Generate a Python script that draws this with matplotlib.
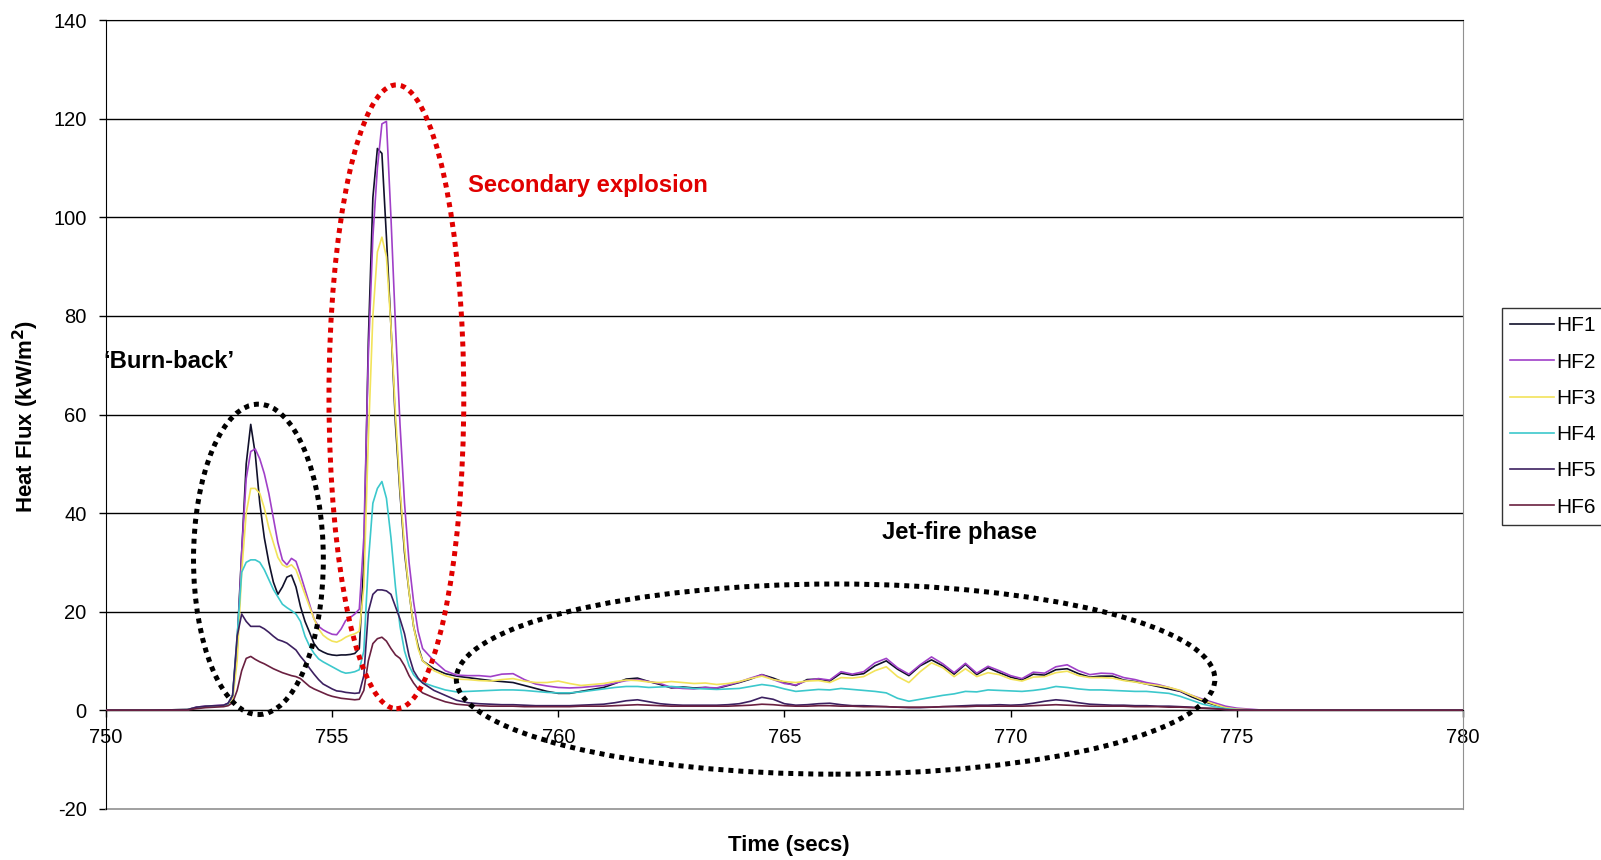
import numpy as np
import matplotlib
matplotlib.use("Agg")
import matplotlib.pyplot as plt
from matplotlib.patches import Ellipse

plt.rcParams['font.family'] = ['Liberation Sans', 'DejaVu Sans']
plt.rcParams['axes.unicode_minus'] = False

# sample times (s): quiet lead-in, 0.1 s through the burn-back / explosion, 0.25 s through the jet fire
t_pre = [750.0, 751.0, 751.8, 752.0, 752.2, 752.4, 752.6, 752.7]
t_event = list(np.round(np.arange(752.8, 757.01, 0.1), 2))
t_jet = list(np.round(np.arange(757.25, 775.01, 0.25), 2))
t_tail = [775.5, 776.0, 780.0]
time = np.array(t_pre + t_event + t_jet + t_tail)

hf1 = [0, 0, 0.1, 0.5, 0.7, 0.8, 0.9, 1.3,
       3.0, 14, 32, 50, 58, 52, 42, 35, 30, 26,
       23.5, 25, 27, 27.4, 25, 21, 18, 15.8, 13.5, 12.3,
       11.8, 11.4, 11.2, 11.1, 11.2, 11.2, 11.3, 11.5, 12.5, 30,
       75, 104, 114, 113, 96, 78, 58, 44, 32, 24,
       17, 13, 10,
       8.4, 7.4, 6.9, 6.6, 6.3, 6.0, 5.8, 5.6, 5.0, 4.4, 3.8,
       3.4, 3.4, 3.8, 4.2, 4.6, 5.4, 6.3, 6.5, 5.8, 5.2, 4.5, 4.7, 4.5, 4.6, 4.4, 5.0, 5.6, 6.3, 7.2, 6.5,
       5.6, 5.0, 6.2, 6.3, 5.9, 7.5, 7.1, 7.4, 9.0, 10.0, 8.3, 7.0, 9.0, 10.2, 9.0, 7.3, 9.3, 7.2, 8.6, 7.6,
       6.7, 6.1, 7.3, 7.1, 8.2, 8.4, 7.4, 6.7, 6.9, 6.9, 6.1, 5.8, 5.3, 4.8, 4.3, 3.8, 2.7, 1.8, 1.1, 0.5,
       0.1,
       0, 0, 0]

hf2 = [0, 0, 0.1, 0.6, 0.8, 0.9, 1.0, 1.4,
       2.5, 12, 32, 47, 52.5, 53, 51, 48, 44, 39,
       34, 30.5, 29.5, 30.8, 30.2, 27.5, 24.5, 21.5, 18.5, 17,
       16.3, 15.8, 15.4, 15.3, 16.5, 18.2, 18.8, 19.5, 20.5, 35,
       72, 96, 110, 119, 119.5, 100, 78, 58, 42, 30,
       22, 16, 12.5,
       10.0, 8.0, 7.1, 7.0, 7.0, 6.8, 7.3, 7.4, 6.2, 5.3, 4.9,
       4.6, 4.5, 4.6, 4.8, 5.0, 5.5, 6.0, 6.2, 5.8, 5.4, 4.6, 4.4, 4.3, 4.6, 4.5, 5.1, 5.7, 6.5, 7.2, 6.2,
       5.4, 5.1, 6.0, 6.4, 6.1, 7.8, 7.3, 7.8, 9.6, 10.5, 8.6, 7.3, 9.2, 10.8, 9.4, 7.6, 9.5, 7.5, 8.9, 8.0,
       7.0, 6.4, 7.7, 7.5, 8.8, 9.2, 8.0, 7.2, 7.5, 7.4, 6.6, 6.2, 5.6, 5.2, 4.6, 3.9, 3.0, 2.2, 1.5, 0.8,
       0.4,
       0.05, 0, 0]

hf3 = [0, 0, 0.1, 0.5, 0.7, 0.8, 0.9, 1.2,
       2.0, 10, 28, 40, 45, 45, 44, 41, 37, 34,
       31, 29.5, 29, 29.5, 28.5, 26, 23.5, 21, 18.5, 16.5,
       15.2, 14.5, 14, 13.8, 14.2, 14.8, 15.2, 15.5, 16, 25,
       55, 80, 93, 96, 92, 78, 60, 45, 33, 24,
       17, 12.5, 10,
       8.0, 7.0, 6.3, 6.2, 6.0, 5.9, 6.2, 6.4, 5.9, 5.6, 5.6,
       5.9, 5.4, 5.0, 5.2, 5.4, 5.8, 6.1, 6.0, 5.7, 5.6, 5.8, 5.6, 5.4, 5.5, 5.2, 5.4, 5.8, 6.4, 6.9, 6.2,
       5.8, 5.6, 5.9, 6.0, 5.6, 6.6, 6.5, 6.8, 8.0, 8.8, 6.8, 5.6, 7.8, 9.6, 8.6, 6.8, 8.4, 6.8, 7.6, 7.2,
       6.3, 5.9, 6.7, 6.8, 7.6, 7.9, 7.0, 6.6, 6.6, 6.5, 6.0, 5.7, 5.3, 5.0, 4.6, 4.0, 3.0, 2.0, 1.2, 0.5,
       0.2,
       0, 0, 0]

hf4 = [0, 0, 0.1, 0.5, 0.7, 0.8, 0.9, 1.3,
       3, 15, 28, 30, 30.5, 30.5, 30, 28.5, 26.5, 24.5,
       23, 21.5, 20.8, 20.2, 19.5, 18, 15, 13, 11.5, 10.4,
       9.8, 9.3, 8.8, 8.3, 7.8, 7.5, 7.6, 7.8, 8.2, 12,
       30, 42, 45, 46.4, 43, 35, 25, 17, 12, 9,
       7.2, 6.2, 5.6,
       4.8, 4.1, 3.7, 3.8, 3.9, 4.0, 4.1, 4.1, 4.0, 3.8, 3.6,
       3.5, 3.5, 3.7, 4.0, 4.3, 4.6, 4.8, 4.8, 4.6, 4.7, 4.8, 4.6, 4.4, 4.3, 4.2, 4.3, 4.4, 4.8, 5.2, 4.9,
       4.3, 3.8, 4.0, 4.2, 4.1, 4.4, 4.2, 4.0, 3.8, 3.5, 2.4, 1.8, 2.2, 2.6, 3.0, 3.3, 3.8, 3.7, 4.1, 4.0,
       3.9, 3.8, 4.0, 4.3, 4.8, 4.6, 4.3, 4.1, 4.1, 4.0, 3.9, 3.8, 3.8, 3.6, 3.4, 2.8, 2.0, 1.2, 0.7, 0.3,
       0.1,
       0, 0, 0]

hf5 = [0, 0, 0.1, 0.6, 0.8, 0.9, 1.0, 1.4,
       3, 15, 19.5, 18, 17, 17, 17, 16.5, 15.8, 15,
       14.3, 14, 13.6, 12.9, 12.2, 10.9, 9.8, 8.5, 7.3, 6.2,
       5.3, 4.8, 4.3, 3.9, 3.8, 3.6, 3.5, 3.4, 3.5, 7,
       20, 23.5, 24.4, 24.4, 24.2, 23.5, 21, 18.5, 15.5, 11,
       8, 6.5, 5.5,
       4.0, 3.0, 2.0, 1.5, 1.3, 1.2, 1.1, 1.1, 1.0, 0.9, 0.9,
       0.9, 0.9, 1.0, 1.1, 1.2, 1.5, 1.9, 2.1, 1.7, 1.3, 1.1, 1.0, 1.0, 1.0, 1.0, 1.1, 1.3, 1.8, 2.6, 2.2,
       1.3, 1.0, 1.1, 1.3, 1.4, 1.1, 0.9, 0.9, 0.8, 0.7, 0.6, 0.5, 0.5, 0.6, 0.7, 0.8, 0.9, 1.0, 1.0, 1.1,
       1.0, 1.1, 1.4, 1.8, 2.1, 1.9, 1.5, 1.2, 1.1, 1.0, 1.0, 0.9, 0.9, 0.8, 0.8, 0.7, 0.6, 0.4, 0.3, 0.1,
       0.0,
       0, 0, 0]

hf6 = [0, 0, 0, 0.3, 0.5, 0.6, 0.7, 0.9,
       1.5, 4, 8, 10.5, 10.9, 10.3, 9.8, 9.4, 8.9, 8.4,
       8.0, 7.6, 7.3, 7.0, 6.8, 6.4, 5.6, 4.8, 4.3, 3.9,
       3.5, 3.1, 2.8, 2.6, 2.4, 2.3, 2.2, 2.1, 2.2, 4,
       10, 13.5, 14.5, 14.8, 14, 12.5, 11.2, 10.5, 9, 7,
       5.5, 4.3, 3.5,
       2.5, 1.7, 1.2, 1.0, 0.9, 0.8, 0.8, 0.8, 0.7, 0.7, 0.7,
       0.7, 0.7, 0.8, 0.8, 0.8, 0.9, 1.0, 1.1, 1.0, 0.9, 0.8, 0.8, 0.8, 0.8, 0.8, 0.8, 0.9, 1.0, 1.2, 1.1,
       0.9, 0.8, 0.8, 0.9, 0.9, 0.8, 0.8, 0.7, 0.7, 0.7, 0.6, 0.6, 0.6, 0.6, 0.7, 0.7, 0.7, 0.8, 0.8, 0.8,
       0.8, 0.8, 0.9, 1.0, 1.1, 1.0, 0.9, 0.8, 0.8, 0.8, 0.8, 0.7, 0.7, 0.7, 0.6, 0.6, 0.5, 0.4, 0.3, 0.1,
       0.0,
       0, 0, 0]

labels = ["HF1", "HF2", "HF3", "HF4", "HF5", "HF6"]
colors = ["#10102a", "#a040c8", "#f2e35a", "#3cc8cc", "#3c2060", "#6a2040"]
series = [hf1, hf2, hf3, hf4, hf5, hf6]

fig = plt.figure(figsize=(16.01, 8.6), dpi=100)
ax = fig.add_axes([0.0662, 0.0597, 0.8476, 0.9166])

for lab, col, vals in zip(labels, colors, series):
    ax.plot(time, vals, color=col, lw=1.2, label=lab, zorder=3)

ax.set_xlim(750, 780)
ax.set_ylim(-20, 140)
ax.set_xticks(range(750, 781, 5))
ax.set_yticks(range(-20, 141, 20))

ax.yaxis.grid(True, color="black", lw=1.0)
ax.set_axisbelow(True)
ax.get_ygridlines()[0].set_visible(False)

# category axis crosses at zero
ax.spines["bottom"].set_position(("data", 0))
ax.spines["bottom"].set_color("black")
ax.spines["left"].set_color("black")
ax.spines["top"].set_color("black")
ax.spines["right"].set_color("#909090")
ax.axhline(-20, color="#909090", lw=1.2, clip_on=False)

ax.tick_params(axis="both", direction="out", length=5, width=1, labelsize=14.5, colors="black")
ax.tick_params(axis="y", pad=9)
ax.tick_params(axis="x", pad=8)

# annotation ellipses
dots = dict(fill=False, lw=3.6, linestyle=(0, (1, 1)), clip_on=False, zorder=5)
ax.add_patch(Ellipse((753.37, 30.6), 2.87, 63.0, edgecolor="black", **dots))
ax.add_patch(Ellipse((756.42, 63.6), 2.98, 126.6, edgecolor="#e00000", **dots))
ax.add_patch(Ellipse((766.13, 6.3), 16.77, 38.6, edgecolor="black", **dots))

ax.text(758.0, 106.4, "Secondary explosion", color="#e00000", fontsize=17.2,
        fontweight="bold", ha="left", va="center")
ax.text(749.95, 70.7, "\u2018Burn-back\u2019", color="black", fontsize=17.2,
        fontweight="bold", ha="left", va="center")
ax.text(768.88, 36.0, "Jet-fire phase", color="black", fontsize=17.2,
        fontweight="bold", ha="center", va="center")

fig.text(789 / 1601, 1 - 845 / 860, "Time (secs)", fontsize=16,
         fontweight="bold", ha="center", va="center")
fig.text(26 / 1601, 1 - 417 / 860, "Heat Flux (kW/m$^\\mathbf{2}$)", fontsize=16,
         fontweight="bold", rotation=90, ha="center", va="center")

leg = fig.legend(loc="upper left", bbox_to_anchor=(1502 / 1601, 1 - 308 / 860),
                 fontsize=15, frameon=True, fancybox=False, handlelength=2.1,
                 handletextpad=0.1, labelspacing=0.83, borderpad=0.4,
                 borderaxespad=0)
leg.get_frame().set_edgecolor("black")
leg.get_frame().set_linewidth(1.0)

fig.savefig("out.png", dpi=100)
